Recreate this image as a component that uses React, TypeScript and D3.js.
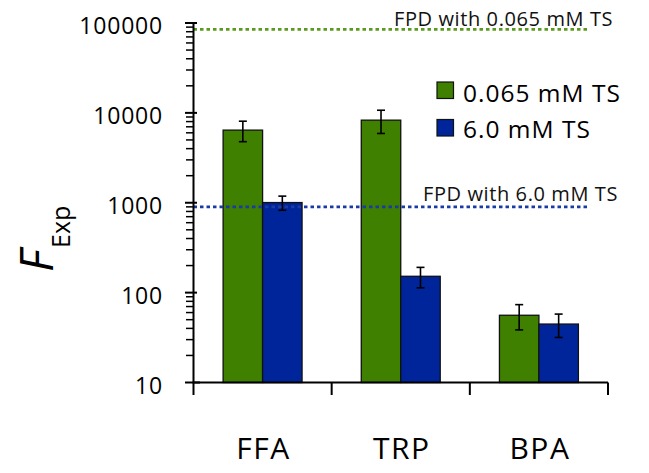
import React from "react";
import * as d3 from "d3";

const categories = ["FFA", "TRP", "BPA"];
const seriesNames = ["0.065 mM TS", "6.0 mM TS"];
const lowTS = [6430, 8300, 56];
const lowTSErr = [1650, 2400, 17.5];
const highTS = [1005, 152, 44.7];
const highTSErr = [180, 39, 13];
const fpdValues = [85000, 900];
const fpdLabels = ["FPD with 0.065 mM TS", "FPD with 6.0 mM TS"];
const yTicks = [10, 100, 1000, 10000, 100000];

const W = 649;
const H = 473;
const FONT = "'Open Sans', 'Noto Sans', sans-serif";
const fills = ["#3f8000", "#00259a"];
const lineColors = ["#5a9a1e", "#1a3aa6"];

export default function App() {
  const x0 = d3.scaleBand<string>().domain(categories).range([193.5, 608]).padding(0);
  const x1 = d3
    .scaleBand<string>()
    .domain(seriesNames)
    .range([0, x0.bandwidth()])
    .paddingInner(0)
    .paddingOuter(0.75);
  const y = d3.scaleLog().domain([10, 100000]).range([382.5, 23]);

  const series = [
    { name: seriesNames[0], values: lowTS, errs: lowTSErr, fill: fills[0] },
    { name: seriesNames[1], values: highTS, errs: highTSErr, fill: fills[1] },
  ];

  const minor: number[] = [];
  for (let k = 1; k < 5; k++) {
    for (let m = 2; m <= 9; m++) minor.push(m * Math.pow(10, k));
  }

  const axisX = 193.5;
  const baseY = y(10);
  const bandEdges = [...categories.map((c) => x0(c) as number), 608];

  return (
    <svg
      width={W}
      height={H}
      style={{ position: "absolute", left: 0, top: 0, background: "#fff" }}
      fontFamily={FONT}
    >
      <rect x={0} y={0} width={W} height={H} fill="#fff" />

      {/* bars */}
      {series.map((s, si) =>
        categories.map((c, ci) => {
          const bx = (x0(c) as number) + (x1(s.name) as number);
          const bw = x1.bandwidth();
          const top = y(s.values[ci]);
          const cx = bx + bw / 2;
          const eTop = y(s.values[ci] + s.errs[ci]);
          const eBot = y(s.values[ci] - s.errs[ci]);
          return (
            <g key={`${si}-${ci}`}>
              <rect
                x={bx}
                y={top}
                width={bw}
                height={baseY - top}
                fill={s.fill}
                stroke="#111"
                strokeWidth={1.3}
              />
              <line x1={cx} x2={cx} y1={eTop} y2={eBot} stroke="#000" strokeWidth={1.6} />
              <line x1={cx - 4} x2={cx + 4} y1={eTop} y2={eTop} stroke="#000" strokeWidth={1.6} />
              <line x1={cx - 4} x2={cx + 4} y1={eBot} y2={eBot} stroke="#000" strokeWidth={1.6} />
            </g>
          );
        })
      )}

      {/* FPD reference lines */}
      <line
        x1={axisX}
        x2={588}
        y1={y(fpdValues[0])}
        y2={y(fpdValues[0])}
        stroke={lineColors[0]}
        strokeWidth={2.6}
        strokeDasharray="3.5 3"
      />
      <text x={394} y={y(fpdValues[0]) - 3} fontSize={20} letterSpacing={0.6} fill="#111">
        {fpdLabels[0]}
      </text>
      <line
        x1={axisX}
        x2={587}
        y1={y(fpdValues[1])}
        y2={y(fpdValues[1])}
        stroke={lineColors[1]}
        strokeWidth={2.6}
        strokeDasharray="3.5 3"
      />
      <text x={423} y={y(fpdValues[1]) - 6} fontSize={20} letterSpacing={0.6} fill="#111">
        {fpdLabels[1]}
      </text>

      {/* y axis */}
      <line x1={axisX} x2={axisX} y1={y(100000)} y2={baseY} stroke="#000" strokeWidth={2} />
      {minor.map((v) => (
        <line key={v} x1={186} x2={axisX} y1={y(v)} y2={y(v)} stroke="#000" strokeWidth={1.5} />
      ))}
      {yTicks.map((v) => (
        <g key={v}>
          <line x1={185} x2={v === 10 ? 200 : 197} y1={y(v)} y2={y(v)} stroke="#000" strokeWidth={2} />
          <text
            x={163}
            y={y(v) + 11.3}
            textAnchor="end"
            fontSize={23}
            letterSpacing={0.8}
            fill="#000"
          >
            {String(v)}
          </text>
        </g>
      ))}

      {/* x axis */}
      <line x1={axisX - 1} x2={608} y1={baseY} y2={baseY} stroke="#000" strokeWidth={2} />
      {bandEdges.map((bx, i) => (
        <line key={i} x1={bx} x2={bx} y1={baseY} y2={395} stroke="#000" strokeWidth={2} />
      ))}
      {categories.map((c) => (
        <text
          key={c}
          x={(x0(c) as number) + x0.bandwidth() / 2 + 1}
          y={458.5}
          textAnchor="middle"
          fontSize={30}
          letterSpacing={1.5}
          fill="#000"
        >
          {c}
        </text>
      ))}

      {/* y title */}
      <text transform="translate(53,272) rotate(-90)" fill="#000">
        <tspan fontSize={46} fontStyle="italic">F</tspan>
        <tspan fontSize={25} dy={17} dx={2}>Exp</tspan>
      </text>

      {/* legend */}
      {series.map((s, i) => (
        <g key={s.name}>
          <rect
            x={437}
            y={82 + i * 37.5}
            width={16.5}
            height={16.5}
            fill={s.fill}
            stroke="#111"
            strokeWidth={1.2}
          />
          <text x={463} y={101.7 + i * 36.6} fontSize={24.5} letterSpacing={1} fill="#000">
            {s.name}
          </text>
        </g>
      ))}
    </svg>
  );
}
